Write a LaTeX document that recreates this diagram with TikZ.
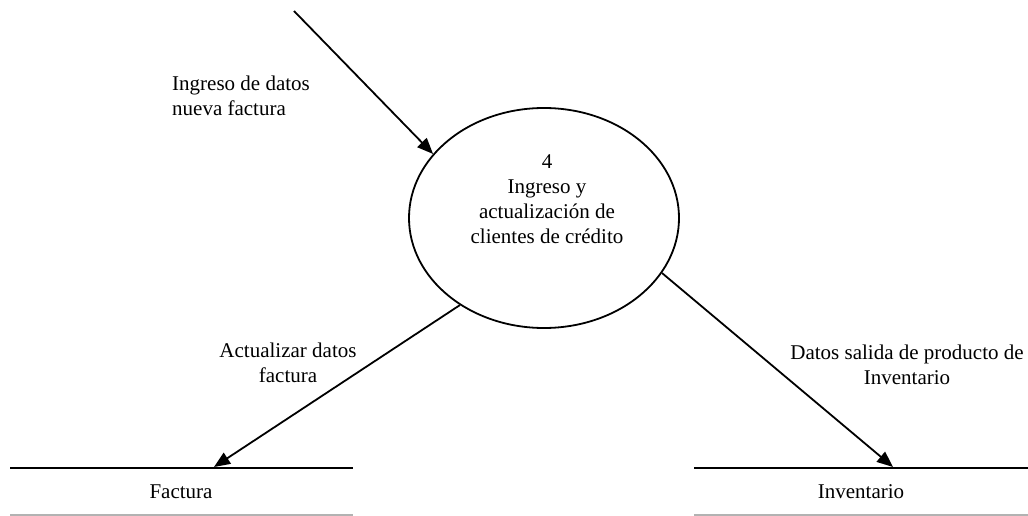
\documentclass[tikz,border=0pt]{standalone}
\usepackage{fontspec}
\setmainfont{Liberation Serif}
\usetikzlibrary{shapes.geometric,arrows.meta}
\begin{document}
\begin{tikzpicture}[x=1pt,y=-1pt,
  txt/.style={font=\fontsize{21}{25}\selectfont, inner sep=0pt, align=center},
  flow/.style={line width=1.8pt, -{Triangle[length=16pt,width=13pt]}},
  proc/.style={draw, ellipse, line width=1.8pt, minimum width=270pt, minimum height=220pt, inner sep=0pt},
  storetop/.style={line width=2pt},
  storebot/.style={line width=1.5pt, draw=black!30}]
\useasboundingbox (0,0) rectangle (1028,516);
% process
\node[proc] (p) at (544,218) {};
\node[txt] (pt) at (547,199) {4\\Ingreso y\\actualización de\\clientes de crédito};
% data stores
\coordinate (fl) at (10,468); \coordinate (fr) at (353,468);
\coordinate (fbl) at (10,515); \coordinate (fbr) at (353,515);
\draw[storetop] (fl) -- (fr);
\draw[storebot] (fbl) -- (fbr);
\node[txt] (fac) at (181,492) {Factura};
\coordinate (il) at (694,468); \coordinate (ir) at (1028,468);
\coordinate (ibl) at (694,515); \coordinate (ibr) at (1028,515);
\draw[storetop] (il) -- (ir);
\draw[storebot] (ibl) -- (ibr);
\node[txt] (inv) at (861,492) {Inventario};
% connectors
\coordinate (src) at (294,11);
\coordinate (facin) at (214,467);
\coordinate (invin) at (893,467);
\draw[flow] (src) -- (p.150);
\draw[flow] (p.226) -- (facin);
\draw[flow] (p.335) -- (invin);
% labels
\node[txt, align=left, anchor=west] (l1) at (172,96) {Ingreso de datos\\nueva factura};
\node[txt] (l2) at (288,363) {Actualizar datos\\factura};
\node[txt] (l3) at (907,365) {Datos salida de producto de\\Inventario};
\end{tikzpicture}
\end{document}
